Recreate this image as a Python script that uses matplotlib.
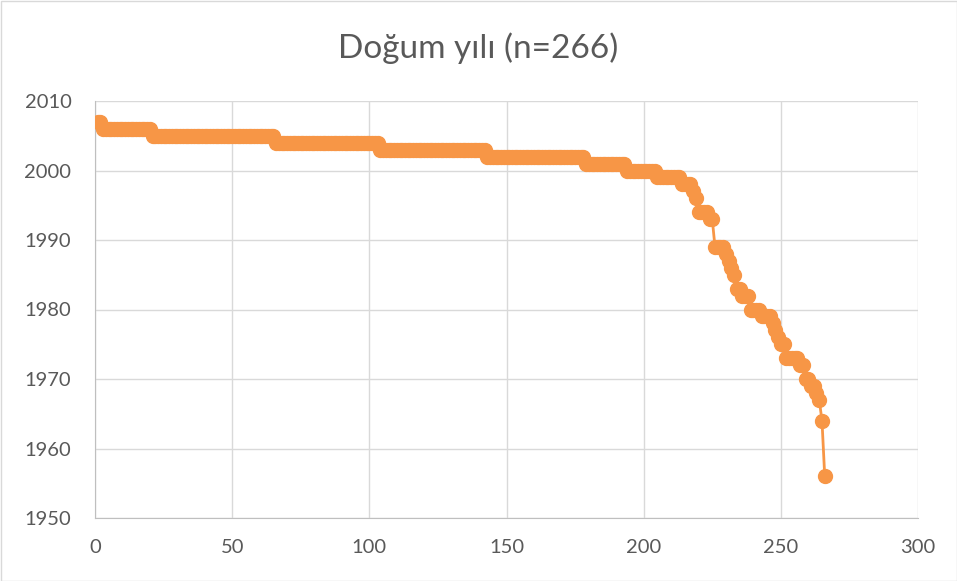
import matplotlib
matplotlib.use("Agg")
import matplotlib.pyplot as plt
import matplotlib.patches as patches
import numpy as np

plt.rcParams['font.family'] = ['Lato', 'DejaVu Sans']

# birth years (descending) and how many respondents share each year
years = [2007, 2006, 2005, 2004, 2003, 2002, 2001, 2000, 1999, 1998, 1997, 1996,
         1994, 1993, 1989, 1988, 1987, 1986, 1985, 1983, 1982, 1980, 1979, 1978,
         1977, 1976, 1975, 1973, 1972, 1970, 1969, 1968, 1967, 1964, 1956]
counts = [2, 18, 45, 38, 39, 36, 15, 11, 9, 4, 1, 1,
          4, 2, 4, 1, 1, 1, 1, 2, 3, 4, 4, 1,
          1, 1, 2, 5, 2, 2, 2, 1, 1, 1, 1]
x_ticks = [0, 50, 100, 150, 200, 250, 300]
y_ticks = [1950, 1960, 1970, 1980, 1990, 2000, 2010]

y = np.repeat(years, counts)
x = np.arange(1, len(y) + 1)

fig = plt.figure(figsize=(9.57, 5.81), dpi=100)
ax = fig.add_axes([95 / 957, 1 - 518 / 581, (918 - 95) / 957, (518 - 101) / 581])

ax.plot(x, y, color='#F79646', lw=2, marker='o', ms=10, zorder=3)

ax.set_xlim(0, 300)
ax.set_ylim(1950, 2010)
ax.set_xticks(x_ticks)
ax.set_yticks(y_ticks)
ax.grid(True, color='#D9D9D9', lw=1)
ax.set_axisbelow(True)
for s in ['top', 'right']:
    ax.spines[s].set_visible(False)
for s in ['left', 'bottom']:
    ax.spines[s].set_color('#BFBFBF')
ax.tick_params(length=0, labelsize=14.5, colors='#595959')
ax.tick_params(axis='y', pad=17)
ax.tick_params(axis='x', pad=15)

fig.text(0.5, 1 - 48 / 581, "Doğum yılı (n=266)", ha='center', va='center',
         fontsize=24, color='#595959')

# light outer chart border
fig.patches.append(patches.Rectangle((0.5 / 957, 0.5 / 581), 1 - 1 / 957, 1 - 1 / 581,
                                     transform=fig.transFigure, fill=False,
                                     edgecolor='#D9D9D9', lw=1))

fig.savefig("out.png", dpi=100)
